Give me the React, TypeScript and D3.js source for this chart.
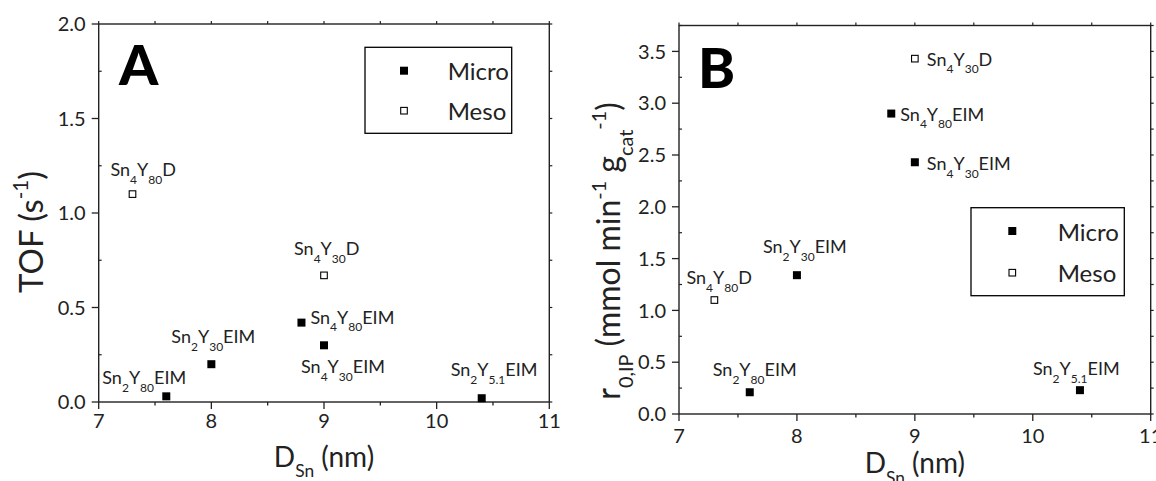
import React from "react";
import * as d3 from "d3";

// Samples: Sn content, Y ratio subscript, synthesis suffix, pore type
const sampleNames = ["Sn2Y80EIM", "Sn2Y30EIM", "Sn4Y80EIM", "Sn4Y30EIM", "Sn2Y5.1EIM", "Sn4Y80D", "Sn4Y30D"];
const snSubscript = ["2", "2", "4", "4", "2", "4", "4"];
const ySubscript = ["80", "30", "80", "30", "5.1", "80", "30"];
const methodSuffix = ["EIM", "EIM", "EIM", "EIM", "EIM", "D", "D"];
const poreType = ["Micro", "Micro", "Micro", "Micro", "Micro", "Meso", "Meso"];

// Sn particle diameter (nm)
const diameterSn = [7.6, 8.0, 8.8, 9.0, 10.4, 7.3, 9.0];
// Panel A: turnover frequency (s^-1)
const tofValues = [0.03, 0.2, 0.42, 0.3, 0.02, 1.1, 0.67];
// Panel B: initial rate r0,IP (mmol min^-1 gcat^-1)
const rateValues = [0.21, 1.34, 2.9, 2.43, 0.23, 1.1, 3.43];

const xTicks = [7, 8, 9, 10, 11];
const tofTicks = [0, 0.5, 1.0, 1.5, 2.0];
const rateTicks = [0, 0.5, 1.0, 1.5, 2.0, 2.5, 3.0, 3.5];
const legendEntries = ["Micro", "Meso"];

// label placement (pixel offset of text start from the marker centre)
const labelOffsetA: [number, number][] = [[-64, -12], [-40, -21], [9, 1], [-23, 28], [-31, -22], [-22, -18], [-30, -20]];
const labelOffsetB: [number, number][] = [[-37, -16], [-34, -22], [9, 7], [12, 8], [-47, -15], [-28, -16], [12, 7]];

const FONT = "Lato, 'Open Sans', sans-serif";
const INK = "#222";

type Seg = { t: string; s?: "sub" | "sup" };

function RichText({ segs, x, y, size, anchor = "start", transform, subSize, subShift = 0.42, supShift = 0.45 }: any) {
  let cur = 0;
  const small = subSize ?? size * 0.62;
  return (
    <text x={x} y={y} fontSize={size} fontFamily={FONT} fill={INK} textAnchor={anchor} transform={transform}>
      {segs.map((sg: Seg, i: number) => {
        const target = sg.s === "sub" ? size * subShift : sg.s === "sup" ? -size * supShift : 0;
        const dy = target - cur;
        cur = target;
        return (
          <tspan key={i} dy={dy} fontSize={sg.s ? small : size}>
            {sg.t}
          </tspan>
        );
      })}
    </text>
  );
}

function sampleSegs(i: number): Seg[] {
  return [
    { t: "Sn" },
    { t: snSubscript[i], s: "sub" },
    { t: "Y" },
    { t: ySubscript[i], s: "sub" },
    { t: methodSuffix[i] },
  ];
}

function Marker({ cx, cy, type }: { cx: number; cy: number; type: string }) {
  if (type === "Micro") {
    return <rect x={cx - 4} y={cy - 4} width={8} height={8} fill="#000" />;
  }
  return <rect x={cx - 3.3} y={cy - 3.3} width={6.6} height={6.6} fill="#fff" stroke="#000" strokeWidth={1.1} />;
}

function Panel({ cfg }: any) {
  const x = d3.scaleLinear().domain([7, 11]).range([cfg.left, cfg.right]);
  const y = d3.scaleLinear().domain([0, cfg.yMax]).range([cfg.bottom, cfg.top]);
  const xMinor = d3.range(7, 11.001, 0.5);
  const yMinor = d3.range(0, cfg.yMax + 0.001, 0.25);
  const isMajorY = (v: number) => Math.abs(v * 2 - Math.round(v * 2)) < 1e-6;
  const isMajorX = (v: number) => Math.abs(v - Math.round(v)) < 1e-6;
  const fmt = d3.format(".1f");
  return (
    <g>
      {/* frame */}
      <rect x={cfg.left} y={cfg.top} width={cfg.right - cfg.left} height={cfg.bottom - cfg.top} fill="none" stroke={INK} strokeWidth={1.4} />
      {/* bottom & top ticks */}
      {xMinor.map((v) => (
        <g key={"xt" + v}>
          <line x1={x(v)} x2={x(v)} y1={cfg.bottom} y2={cfg.bottom + (isMajorX(v) ? 7 : 3.5)} stroke={INK} strokeWidth={1.3} />
          <line x1={x(v)} x2={x(v)} y1={cfg.top} y2={cfg.top - 3} stroke={INK} strokeWidth={1.2} />
        </g>
      ))}
      {/* left & right ticks */}
      {yMinor.map((v) => (
        <g key={"yt" + v}>
          {isMajorY(v) ? (
            <line x1={cfg.left - 7} x2={cfg.left} y1={y(v)} y2={y(v)} stroke={INK} strokeWidth={1.3} />
          ) : (
            <line x1={cfg.left} x2={cfg.left + 3} y1={y(v)} y2={y(v)} stroke={INK} strokeWidth={1.2} />
          )}
          <line x1={cfg.right} x2={cfg.right + 3} y1={y(v)} y2={y(v)} stroke={INK} strokeWidth={1.2} />
        </g>
      ))}
      {/* tick labels */}
      {xTicks.map((v) => (
        <text key={"xl" + v} x={x(v)} y={cfg.bottom + cfg.xLabelOffset} fontSize={20} fontFamily={FONT} fill={INK} textAnchor="middle">
          {v}
        </text>
      ))}
      {cfg.yTicks.map((v: number) => (
        <text key={"yl" + v} x={cfg.left - 13} y={y(v)} dy="0.36em" fontSize={20} fontFamily={FONT} fill={INK} textAnchor="end">
          {fmt(v)}
        </text>
      ))}
      {/* axis titles */}
      <RichText segs={[{ t: "D" }, { t: "Sn", s: "sub" }, { t: " (nm)" }]} x={(cfg.left + cfg.right) / 2} y={cfg.xTitleY} size={28} anchor="middle" subShift={0.38} />
      <RichText segs={cfg.yTitle} x={0} y={0} size={cfg.yTitleSize} anchor="middle" transform={`translate(${cfg.yTitleX},${cfg.yTitleCenter}) rotate(-90)`} />
      {/* panel letter */}
      <text x={cfg.letterX} y={cfg.letterY} fontSize={56} fontWeight={900} fontFamily={FONT} fill="#000">
        {cfg.letter}
      </text>
      {/* points and labels */}
      {sampleNames.map((name, i) => {
        const cx = x(diameterSn[i]);
        const cy = y(cfg.values[i]);
        const [dx, dy] = cfg.offsets[i];
        return (
          <g key={name}>
            <Marker cx={cx} cy={cy} type={poreType[i]} />
            <RichText segs={sampleSegs(i)} x={cx + dx} y={cy + dy} size={18} subSize={12} subShift={0.42} />
          </g>
        );
      })}
      {/* legend */}
      <rect x={cfg.legend.x} y={cfg.legend.y} width={cfg.legend.w} height={cfg.legend.h} fill="#fff" stroke="#000" strokeWidth={1.3} />
      {legendEntries.map((entry, k) => (
        <g key={entry}>
          <Marker cx={cfg.legend.mx} cy={cfg.legend.my[k]} type={entry} />
          <text x={cfg.legend.tx} y={cfg.legend.my[k] + 9.5} fontSize={24} fontFamily={FONT} fill={INK}>
            {entry}
          </text>
        </g>
      ))}
    </g>
  );
}

const panelA = {
  left: 98.7, right: 549.3, top: 24, bottom: 402, yMax: 2,
  yTicks: tofTicks, values: tofValues, offsets: labelOffsetA,
  xLabelOffset: 26, xTitleY: 466.5,
  yTitle: [{ t: "TOF (s" }, { t: "-1", s: "sup" }, { t: ")" }] as Seg[],
  yTitleSize: 33, yTitleX: 43, yTitleCenter: 232,
  letter: "A", letterX: 119, letterY: 85,
  legend: { x: 365, y: 47.3, w: 146.7, h: 86, mx: 404, my: [70.7, 110.7], tx: 447.7 },
};

const panelB = {
  left: 679, right: 1150.7, top: 25.5, bottom: 414, yMax: 3.75,
  yTicks: rateTicks, values: rateValues, offsets: labelOffsetB,
  xLabelOffset: 29, xTitleY: 473,
  yTitle: [
    { t: "r" }, { t: "0,IP", s: "sub" }, { t: " (mmol min" }, { t: "-1", s: "sup" },
    { t: " g" }, { t: "cat", s: "sub" }, { t: "-1", s: "sup" }, { t: ")" },
  ] as Seg[],
  yTitleSize: 32, yTitleX: 620, yTitleCenter: 251,
  letter: "B", letterX: 698, letterY: 88,
  legend: { x: 971, y: 207.7, w: 153.3, h: 88, mx: 1012.3, my: [231, 272.7], tx: 1057.7 },
};

export default function App() {
  return (
    <svg width={1156} height={481} style={{ position: "absolute", left: 0, top: 0, background: "#fff" }}>
      <rect width={1156} height={481} fill="#fff" />
      <Panel cfg={panelA} />
      <Panel cfg={panelB} />
    </svg>
  );
}
